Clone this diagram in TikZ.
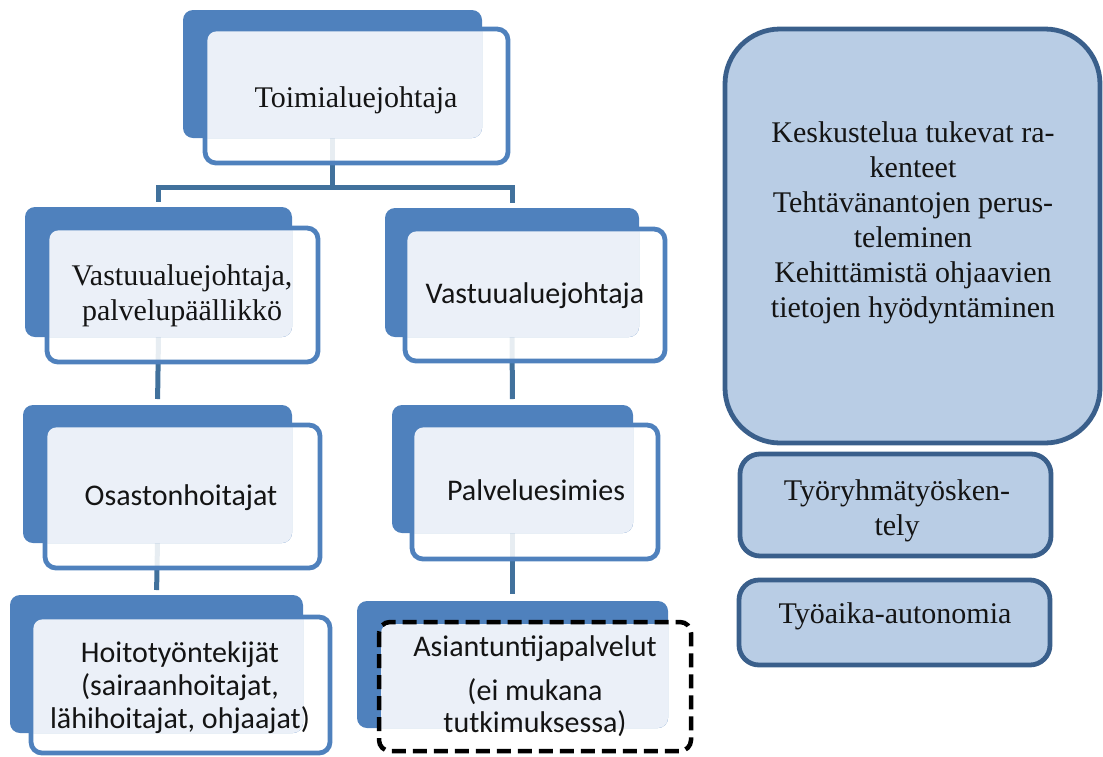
\documentclass[tikz,border=0pt]{standalone}
\usepackage{fontspec}
\setmainfont{Liberation Serif}
\newfontfamily\calibri{Carlito}
\usetikzlibrary{calc,backgrounds}

\definecolor{accent}{HTML}{4F81BD}
\definecolor{accentpale}{HTML}{EBF0F8}
\definecolor{linkcol}{HTML}{41719C}
\definecolor{sidefill}{HTML}{B9CDE5}
\definecolor{sideedge}{HTML}{3A5F8B}
\definecolor{inkcol}{HTML}{141414}

\tikzset{
  backbox/.style={rectangle, fill=accent, rounded corners=10pt,
    inner sep=0pt, outer sep=0pt, anchor=north west},
  frontbox/.style={rectangle, draw=accent, line width=4.8pt, fill=white,
    fill opacity=0.88, rounded corners=11pt, inner sep=0pt, outer sep=0pt,
    anchor=north west},
  plainfront/.style={rectangle, fill=white, rounded corners=11pt,
    inner sep=0pt, outer sep=0pt, anchor=north west},
  dashedge/.style={draw=black, line width=4.5pt, dash pattern=on 14pt off 7pt,
    rounded corners=11pt},
  sidebox/.style={rectangle, draw=sideedge, fill=sidefill, line width=4.8pt,
    inner sep=0pt, outer sep=0pt, anchor=north west},
  link/.style={draw=linkcol, line width=5pt},
  serif/.style={font=\fontsize{30}{35}\selectfont, text=inkcol, inner sep=0pt, align=center},
  sans/.style={font=\calibri\fontsize{30}{33}\selectfont, text=inkcol, inner sep=0pt, align=center},
}

% Two-layer org box: back tile (#2..#5) and framed front tile (#6..#9)
\newcommand\orgunit[9]{%
  \node[frontbox, minimum width={#8-(#6)}, minimum height={#9-(#7)}] (#1f) at (#6,#7) {};
  \node[backbox, minimum width={#4-(#2)}, minimum height={#5-(#3)}] (#1b) at (#2,#3) {};
  \begin{scope}
    \clip[rounded corners=10pt] (#1b.north west) rectangle (#1b.south east);
    \fill[accentpale, rounded corners=9pt] ($(#1f.north west)+(2.4,2.4)$) rectangle ($(#1f.south east)+(-2.4,-2.4)$);
  \end{scope}%
}

\begin{document}
\begin{tikzpicture}[x=1pt, y=-1pt]
\useasboundingbox (0,0) rectangle (1103,756);

% organisation chart
\orgunit{top}{183}{10}{482}{138}{205}{29}{508}{163}
\orgunit{la}{25}{207}{292}{337}{47}{228}{318}{362}
\orgunit{lb}{23}{405}{292}{543}{45}{425}{320}{568}
\orgunit{lc}{10}{595}{303}{733}{31}{617}{330}{753}
\orgunit{ra}{385}{208}{639}{337}{405}{229}{665}{361}
\orgunit{rb}{392}{405}{633}{533}{412}{425}{658}{559}

% unit outside the study: dashed frame
\node[plainfront, minimum width={691-379}, minimum height={751-622}] (rcf) at (379,622) {};
\node[backbox, minimum width={668-357}, minimum height={728-601}] (rcb) at (357,601) {};
\begin{scope}
  \clip[rounded corners=10pt] (rcb.north west) rectangle (rcb.south east);
  \fill[accentpale, rounded corners=9pt] ($(rcf.north west)+(2,2)$) rectangle ($(rcf.south east)+(-2,-2)$);
\end{scope}
\draw[dashedge] (rcf.north west) rectangle (rcf.south east);

% connectors
\coordinate (split) at (332,187);
\begin{scope}[on background layer]
  \draw[link] (topb.south) -- (topb.south |- split);
  \draw[link, shorten <=-2.5pt, shorten >=-2.5pt] (lab.north |- split) -- (rab.north |- split);
  \draw[link, shorten >=5pt] (lab.north |- split) -- (lab.north);
  \draw[link, shorten >=5pt] (rab.north |- split) -- (rab.north);
  \draw[link, shorten >=6pt] (lab.south) -- (lbb.north);
  \draw[link, shorten >=5pt] (lbb.south) -- (lcb.north);
  \draw[link, shorten >=6pt] (rab.south) -- (rbb.north);
  \draw[link, shorten >=7pt] (rbb.south) -- (rcb.north);
\end{scope}

% labels of the chart
\node[serif, anchor=base] (tTop) at (356,107) {Toimialuejohtaja};
\node[serif] (tLa) at (182,296) {Vastuualuejohtaja,\\palvelupäällikkö};
\node[sans, anchor=base] (tLb) at (181,505) {Osastonhoitajat};
\node[sans] (tLc) at (180,687.5) {Hoitotyöntekijät\\(sairaanhoitajat,\\lähihoitajat, ohjaajat)};
\node[sans, anchor=base] (tRa) at (535,303) {Vastuualuejohtaja};
\node[sans, anchor=base] (tRb) at (536,500) {Palveluesimies};
\node[sans, font=\calibri\fontsize{30}{32}\selectfont] (tRc) at (535,686) {Asiantuntijapalvelut\\[12pt](ei mukana\\tutkimuksessa)};

% side boxes
\node[sidebox, rounded corners=55pt, minimum width={1100-725}, minimum height={443-29}] (sA) at (725,29) {};
\node[sidebox, rounded corners=20pt, minimum width={1051-740}, minimum height={556-454}] (sB) at (740,454) {};
\node[sidebox, rounded corners=20pt, minimum width={1050-739}, minimum height={665-580}] (sC) at (739,580) {};

\node[serif] (tA) at (913,222.5) {Keskustelua tukevat ra-\\kenteet\\Tehtävänantojen perus-\\teleminen\\Kehittämistä ohjaavien\\tietojen hyödyntäminen};
\node[serif] (tB) at (897,510.5) {Työryhmätyösken-\\tely};
\node[serif, anchor=base] (tC) at (895,623) {Työaika-autonomia};
\end{tikzpicture}
\end{document}
